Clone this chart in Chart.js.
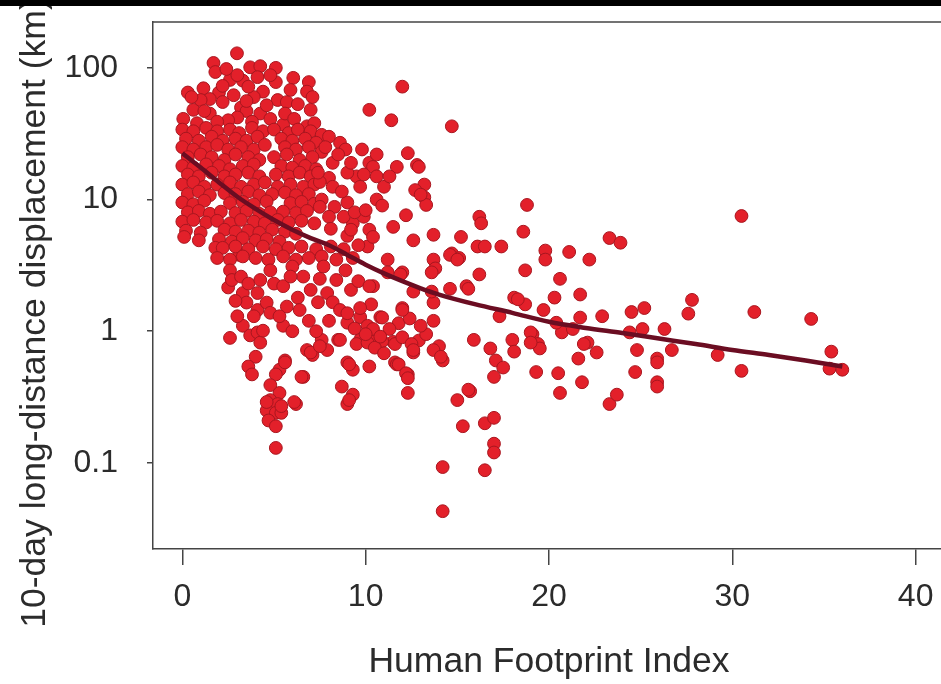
<!DOCTYPE html>
<html>
<head>
<meta charset="utf-8">
<title>Displacement vs Human Footprint Index</title>
<script src="https://cdn.jsdelivr.net/npm/chart.js@4"></script>
<style>
  html, body { margin: 0; padding: 0; background: #fff; overflow: hidden; }
  #wrap { position: relative; width: 960px; height: 684px; }
  #band { position: absolute; left: 0; top: 0; width: 100%; height: 6px; background: #000; z-index: 2; }
  canvas { display: block; }
</style>
</head>
<body>
<div id="wrap">
  <div id="band"></div>
  <canvas id="chart" width="960" height="684"></canvas>
</div>
<script>
// Tick labels
const xTicks = [0, 10, 20, 30, 40];
const yTicks = [0.1, 1, 10, 100];
const xTitle = 'Human Footprint Index';
const yTitle = '10-day long-distance displacement (km)';

const clusterTop = [
    [2.98, 129], [1.7, 109], [1.8, 93], [0.3, 65], [0.6, 48], [1.5, 45], [1.15, 70], [2.0, 65],
    [1.5, 58], [2.6, 81], [3.3, 80], [3.7, 101], [4.25, 103], [4.1, 85], [5.1, 100], [5.1, 78],
    [4.4, 66], [3.9, 60], [3.2, 50], [3.5, 47], [3.0, 42], [2.5, 40], [4.25, 45], [5.2, 57],
    [5.7, 55], [6.3, 53], [6.05, 84], [6.9, 78], [6.8, 66], [7.1, 60], [7.0, 48], [6.8, 36],
    [7.2, 38], [5.5, 37], [0.05, 41], [2.2, 55], [2.8, 62], [3.6, 72], [4.8, 88], [5.9, 68],
    [2.4, 98], [1.0, 57], [3.0, 88], [4.6, 52], [5.6, 45], [6.1, 41], [1.9, 39], [0.8, 38],
    [3.8, 39], [4.8, 41], [0.5, 60], [2.2, 73], [1.2, 47], [3.5, 56]
];
const clusterBand = [
    [0, 34], [0.6, 33], [1.3, 35], [1.9, 33], [2.6, 34], [3.1, 32], [3.8, 35], [4.4, 33], [5.0, 34],
    [5.8, 32], [6.3, 34], [7.0, 33], [7.6, 31],
    [0.2, 29], [0.9, 28], [1.6, 30], [2.2, 28], [2.9, 29], [3.5, 28], [4.1, 30], [5.4, 29], [6.0, 28],
    [6.7, 29], [7.3, 27],
    [0, 25], [0.6, 24], [1.3, 25], [1.9, 26], [2.5, 24], [3.2, 25], [3.9, 24], [4.5, 26], [5.6, 25],
    [6.2, 24], [6.9, 25], [7.6, 23],
    [0.3, 21], [1.0, 22], [1.6, 21], [2.3, 20], [2.9, 22], [3.6, 21], [4.2, 20], [5.0, 21], [5.7, 22],
    [6.4, 20], [7.1, 21],
    [0, 18], [0.6, 17.5], [1.3, 18.5], [2.0, 18], [2.6, 17], [3.3, 18], [3.9, 18.5], [5.4, 18],
    [6.0, 17.5], [6.7, 18], [7.3, 17],
    [0.3, 15.5], [0.9, 15], [1.6, 16], [2.3, 15], [2.9, 15.5], [3.6, 16], [4.2, 15], [5.1, 15.5],
    [5.8, 15], [6.4, 16], [7.0, 15],
    [0, 13], [0.6, 13.5], [1.2, 12.5], [1.9, 13], [2.6, 13.5], [3.2, 12.5], [3.9, 13], [4.5, 13.5],
    [5.2, 12.5], [5.9, 13], [6.6, 12.5], [7.2, 13],
    [0.3, 11], [0.9, 11.5], [1.5, 10.8], [2.3, 11.2], [2.9, 11], [3.6, 11.5], [4.2, 10.8], [4.9, 11],
    [5.6, 11.3], [6.2, 10.8], [6.9, 11],
    [0, 9.5], [0.6, 9.2], [1.2, 9.8], [2.6, 9.4], [3.3, 9.6], [3.9, 9.2], [4.6, 9.7], [5.9, 9.4],
    [6.5, 9.6], [7.2, 9.3],
    [0.3, 8], [0.9, 8.2], [1.5, 7.8], [2.1, 8.1], [2.9, 7.9], [3.5, 8.2], [4.2, 7.8], [4.8, 8.0],
    [5.5, 8.1], [6.2, 7.9], [6.8, 8.2],
    [0, 6.8], [0.6, 7], [1.3, 6.7], [1.9, 6.9], [2.6, 6.6], [3.2, 7], [3.9, 6.8], [4.5, 6.6],
    [5.2, 7], [5.8, 6.7], [6.5, 6.9], [7.2, 6.6],
    [0.2, 5.8], [1.0, 5.6], [2.3, 5.9], [2.9, 5.7], [3.6, 5.8], [4.2, 5.6], [4.9, 5.9], [5.6, 5.7],
    [6.2, 5.5],
    [0.1, 5.2], [0.9, 4.9], [2.0, 5.0], [2.7, 4.8], [3.3, 5.1], [4.0, 4.9], [4.6, 5.0], [5.3, 4.8]
];
const clusterSide = [
    [8.6, 27], [8.9, 24], [9.8, 24], [10.2, 19], [10.4, 17.7], [9.5, 15], [9.0, 16], [8.2, 19],
    [8.0, 14.6], [7.5, 13.6], [7.6, 10], [8.3, 8.8], [9.0, 9.5], [9.7, 12.5], [10.6, 15], [11.0, 12.5],
    [10.6, 10], [9.3, 6.6], [9.9, 7.4], [10.2, 5.9], [8.8, 7.4], [8.0, 7.4], [7.5, 8.8], [8.2, 12.5],
    [10.1, 4.4], [11.7, 17.7], [7.4, 16], [8.0, 30], [8.5, 22], [9.2, 19], [9.9, 15.5], [10.6, 22],
    [8.7, 11.5], [9.4, 8], [10.0, 8.3], [10.9, 9], [8.1, 6], [9.0, 5.3], [7.8, 25], [11.3, 15],
    [9.2, 5.9], [10.4, 5.2], [11.5, 6.2], [11.2, 3.5]
];
const clusterLow = [
    [1.8, 4.3], [3.1, 3.8],
    [2.2, 4.3], [2.9, 4.4], [3.6, 4.2], [4.4, 4.4], [5.1, 4.2], [5.8, 4.3], [6.5, 4.4], [7.3, 4.2],
    [8.1, 4.4], [8.8, 4.2], [9.6, 4.5],
    [1.9, 3.6], [2.6, 3.5], [3.3, 3.7], [4.0, 3.6], [4.7, 3.5], [5.5, 3.7], [6.2, 3.5], [6.9, 3.6],
    [7.6, 3.7], [8.4, 3.5], [9.3, 3.6],
    [2.6, 2.9], [2.5, 2.15], [2.7, 2.45], [3.2, 2.6], [3.3, 1.95], [3.6, 2.3], [3.5, 1.65], [4.1, 1.95],
    [4.1, 1.45], [4.25, 2.45], [4.8, 2.9], [5.0, 2.3], [4.6, 1.65], [3.9, 1.3], [3.3, 1.1], [2.6, 0.89],
    [3.7, 0.93], [4.1, 0.98], [4.25, 0.82], [4.0, 0.64], [3.6, 0.54], [3.8, 0.47], [4.4, 1.01], [5.6, 0.6],
    [5.3, 0.51], [5.1, 0.47], [4.8, 0.39], [5.3, 0.34], [4.8, 0.3], [5.2, 0.28], [4.6, 0.25], [5.1, 0.24],
    [4.7, 0.21], [5.1, 0.19], [5.4, 0.24], [6.2, 0.28], [5.1, 0.13], [6.6, 0.45], [5.5, 2.2], [5.7, 1.54],
    [5.5, 1.1], [6.0, 3.1], [6.3, 1.8], [6.6, 2.6], [7.0, 2.06], [6.4, 1.45], [7.4, 1.66], [7.7, 3.1],
    [7.9, 1.95], [8.2, 1.66], [8.4, 2.45], [8.6, 1.45], [9.0, 1.16], [6.8, 0.72], [7.1, 0.66], [7.6, 0.86],
    [7.9, 0.72], [8.5, 0.86], [9.2, 2.06], [9.0, 0.58], [9.3, 0.51], [8.7, 0.38], [9.3, 0.33], [9.0, 0.28],
    [10.2, 0.54], [10.4, 2.2], [9.7, 1.28], [10.1, 1.1], [10.8, 1.28], [10.6, 0.92], [11.5, 0.83], [11.6, 0.58],
    [10.4, 1.04], [11.2, 2.8], [9.0, 1.37], [9.7, 0.86], [4.8, 1.38], [5.3, 1.3],
    [6.5, 0.45], [7.0, 0.69], [7.5, 0.77], [8.6, 0.86], [9.5, 0.8], [9.1, 0.56], [9.1, 0.30], [10.1, 0.82],
    [10.9, 0.84], [11.6, 0.8], [11.7, 0.56], [4.6, 0.29], [5.4, 0.27], [6.1, 0.29], [5.6, 0.58],
    [3.0, 1.3], [2.9, 1.7], [5.9, 2.6], [6.9, 1.2], [7.5, 2.5], [8.9, 2.9], [9.6, 2.4], [10.3, 1.6],
    [6.0, 1.0], [7.3, 1.0], [8.0, 1.2], [10.5, 0.75], [11.0, 0.68], [12.0, 0.9], [12.9, 0.85], [13.3, 0.95],
    [11.8, 1.15], [12.4, 1.25], [13.0, 1.1], [10.0, 0.95], [9.4, 1.05]
];
const midRange = [
    [12.0, 72], [10.2, 48], [11.4, 40], [14.7, 36], [12.3, 22.5], [12.8, 18.3], [13.2, 13], [13.2, 10.4],
    [13.3, 9.1], [12.2, 7.6], [12.6, 4.9], [13.7, 5.4], [15.2, 5.2], [14.7, 3.9], [15.1, 3.6], [13.7, 3.5],
    [13.8, 3.0], [12.0, 2.8], [10.2, 2.2], [12.0, 1.5], [12.6, 2.0], [13.7, 1.65], [13.7, 1.2], [15.5, 2.2],
    [9.7, 1.5], [12.9, 17.7], [12.7, 11.8], [13.0, 10.9], [16.2, 7.4], [16.3, 6.6], [18.8, 9.1], [18.6, 5.7],
    [16.1, 4.4], [16.5, 4.4], [17.4, 4.4], [13.6, 2.8], [14.6, 3.8], [15.0, 3.5], [16.2, 2.7], [11.9, 2.7],
    [18.7, 2.9], [19.8, 4.1], [19.8, 3.5], [21.1, 4.0], [22.2, 3.5], [23.3, 5.1], [23.9, 4.7], [20.6, 2.5],
    [21.7, 1.9], [13.6, 2.0], [14.6, 2.1], [15.6, 2.1], [12.0, 1.45], [10.9, 1.27], [17.3, 1.3], [18.1, 1.8],
    [18.7, 1.6], [19.7, 1.45], [20.3, 1.8], [21.7, 1.27], [22.9, 1.3], [24.5, 1.4], [25.2, 1.5], [26.3, 1.04],
    [26.7, 0.72], [11.3, 1.04], [10.8, 0.91], [12.5, 0.8], [12.6, 0.69], [14.2, 0.6], [14.0, 0.77], [15.9, 0.86],
    [16.8, 0.74], [17.1, 0.6], [17.5, 0.53], [17.0, 0.45], [18.0, 0.86], [18.1, 0.7], [19.1, 0.95], [19.4, 0.8],
    [19.5, 0.74], [20.7, 0.98], [21.3, 1.04], [22.1, 0.82], [22.6, 0.69], [21.6, 0.62], [24.4, 0.98], [24.8, 0.72],
    [25.1, 1.04], [25.9, 0.62], [25.9, 0.58], [25.9, 0.41], [25.9, 0.38], [24.7, 0.49], [21.8, 0.41], [20.6, 0.34],
    [19.3, 0.49], [20.5, 0.48], [23.3, 0.28], [23.7, 0.33], [12.3, 0.34], [11.8, 0.56], [12.3, 0.47], [12.2, 0.48],
    [12.3, 0.44], [12.6, 0.72], [13.7, 0.72], [14.1, 0.64], [15.7, 0.35], [15.0, 0.30], [15.3, 0.19], [15.6, 0.36],
    [16.5, 0.2], [17.0, 0.22], [17.0, 0.14], [17.0, 0.12], [16.5, 0.088], [14.2, 0.093], [14.2, 0.043]
];
const rightTail = [
    [30.5, 7.5], [19.0, 0.98], [19.0, 0.82], [21.9, 0.8], [27.8, 1.73], [27.6, 1.36], [31.2, 1.4],
    [34.3, 1.24], [20.4, 1.16], [18.3, 1.75], [29.2, 0.66], [30.5, 0.5], [35.4, 0.7], [35.3, 0.52],
    [36.0, 0.51]
];

// Smoothed trend
const trendX = [0, 1, 2, 3, 4, 5, 6, 7, 8, 9, 10, 11, 12, 13, 14, 16, 18, 20, 22, 24, 26, 28, 30, 32, 34, 36];
const trendY = [22.5, 17.5, 13.5, 10.5, 8.5, 7.0, 5.9, 5.1, 4.5, 3.8, 3.2, 2.75, 2.4, 2.12, 1.9, 1.6, 1.38,
    1.18, 1.06, 0.97, 0.88, 0.8, 0.72, 0.66, 0.6, 0.54];

const fontFamily = '"Liberation Sans", Arial, Helvetica, sans-serif';
const textColor = '#2b2b2b';
const axisColor = '#444';

Chart.defaults.font.family = fontFamily;
Chart.defaults.color = textColor;

const observations = [].concat(clusterTop, clusterBand, clusterSide, clusterLow, midRange, rightTail)
    .map(p => ({ x: p[0], y: p[1] }));

// top frame line + rotated y title (placed where the original sits)
const frameAndTitle = {
    id: 'frameAndTitle',
    afterDraw(chart) {
        const { ctx, chartArea } = chart;
        ctx.save();
        ctx.strokeStyle = axisColor;
        ctx.lineWidth = 1.5;
        ctx.beginPath();
        ctx.moveTo(chartArea.left, chartArea.top);
        ctx.lineTo(chart.width, chartArea.top);
        ctx.stroke();
        ctx.translate(35, 313);
        ctx.rotate(-Math.PI / 2);
        ctx.font = '35.5px ' + fontFamily;
        ctx.fillStyle = textColor;
        ctx.textAlign = 'center';
        ctx.textBaseline = 'middle';
        ctx.fillText(yTitle, 0, 0);
        ctx.restore();
    }
};

new Chart(document.getElementById('chart'), {
    type: 'scatter',
    data: {
        datasets: [{
            type: 'line',
            label: 'Trend',
            data: trendX.map((x, i) => ({ x: x, y: trendY[i] })),
            borderColor: '#6b0d22',
            borderWidth: 4.5,
            pointRadius: 0,
            fill: false,
            tension: 0.4,
            cubicInterpolationMode: 'monotone',
            order: 0
        }, {
            label: 'Displacement',
            data: observations,
            backgroundColor: '#e3202a',
            borderColor: '#a8161f',
            borderWidth: 1,
            pointRadius: 6.4,
            order: 1
        }]
    },
    options: {
        responsive: false,
        animation: false,
        devicePixelRatio: 1,
        layout: { padding: { top: 22, right: 15, left: 0, bottom: 0 } },
        plugins: {
            legend: { display: false },
            tooltip: { enabled: false }
        },
        scales: {
            x: {
                type: 'linear',
                position: 'bottom',
                min: -1.6,
                max: 41.6,
                afterBuildTicks: s => { s.ticks = xTicks.map(v => ({ value: v })); },
                afterFit: s => { s.height = 135; s.paddingLeft = 0; s.paddingRight = 0; },
                ticks: {
                    font: { size: 32 },
                    color: textColor,
                    padding: 13,
                    maxRotation: 0,
                    callback: v => String(v)
                },
                grid: {
                    drawOnChartArea: false,
                    drawTicks: true,
                    tickLength: 16,
                    color: axisColor,
                    lineWidth: 1.5
                },
                border: { display: true, color: axisColor, width: 1.5 },
                title: {
                    display: true,
                    text: xTitle,
                    font: { size: 35.5 },
                    color: textColor,
                    padding: { top: 0, bottom: 0 }
                }
            },
            y: {
                type: 'logarithmic',
                position: 'left',
                min: 0.0222,
                max: 223,
                afterBuildTicks: s => { s.ticks = yTicks.map(v => ({ value: v })); },
                afterFit: s => { s.width = 153; s.paddingTop = 0; s.paddingBottom = 0; },
                ticks: {
                    font: { size: 32 },
                    color: textColor,
                    padding: 29,
                    callback: v => String(v)
                },
                grid: {
                    drawOnChartArea: false,
                    drawTicks: true,
                    tickLength: 6,
                    color: axisColor,
                    lineWidth: 1.5
                },
                border: { display: true, color: axisColor, width: 1.5 },
                title: { display: false }
            }
        }
    },
    plugins: [frameAndTitle]
});
</script>
</body>
</html>
